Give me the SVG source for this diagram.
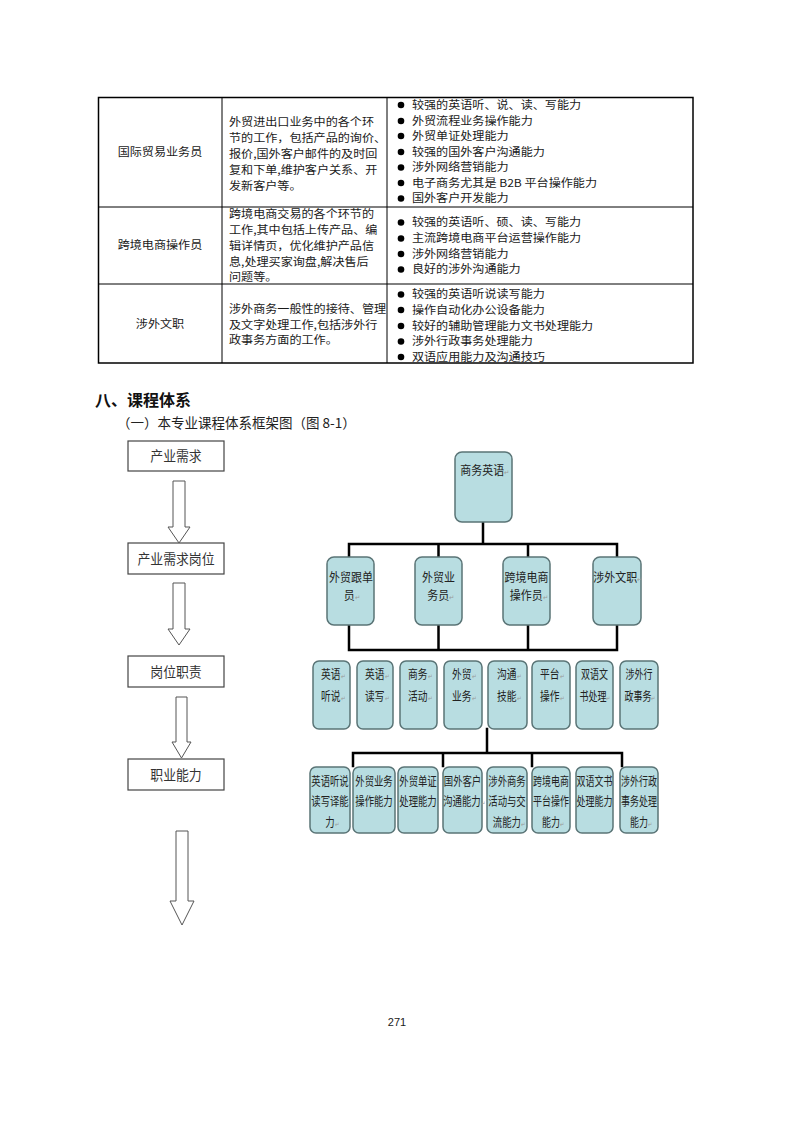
<svg xmlns="http://www.w3.org/2000/svg" width="793" height="1122" viewBox="0 0 793 1122">
<style>
.t{font-family:"Noto Sans CJK SC","Liberation Sans",sans-serif;fill:#1a1a1a}
.tb{font-size:11px}
.c{text-anchor:middle}
.fl{font-size:14px;fill:#333}
.nb{fill:#b8dde1;stroke:#5a7476;stroke-width:1.5}
.fb{fill:#fff;stroke:#444;stroke-width:1.2}
.ar{fill:#fff;stroke:#555;stroke-width:1}
.n2{font-size:12.2px;fill:#222}
.n3{font-size:12.5px;fill:#222}
.pm{font-size:7px;fill:#999}
.ln{stroke:#000;stroke-width:2.5;fill:none;stroke-linecap:square}
.tl{stroke:#000;stroke-width:1;fill:none}
</style>
<rect width="793" height="1122" fill="#fff"/>

<g id="table">
<rect x="98.5" y="97.5" width="594.5" height="265.5" fill="none" stroke="#000" stroke-width="1.5"/>
<path class="tl" d="M222,97V363M387,97V363M98,207H693M98,284H693"/>
<g class="t tb" transform="scale(1.1,1)">
<text class="c" x="145.45" y="156">国际贸易业务员</text>
<text x="208.2" y="126.5">外贸进出口业务中的各个环</text>
<text x="208.2" y="142.5">节的工作，包括产品的询价、</text>
<text x="208.2" y="158">报价,国外客户邮件的及时回</text>
<text x="208.2" y="174">复和下单,维护客户关系、开</text>
<text x="208.2" y="190">发新客户等。</text>
<text x="374.5" y="109">较强的英语听、说、读、写能力</text>
<text x="374.5" y="125">外贸流程业务操作能力</text>
<text x="374.5" y="140">外贸单证处理能力</text>
<text x="374.5" y="156">较强的国外客户沟通能力</text>
<text x="374.5" y="171.5">涉外网络营销能力</text>
<text x="374.5" y="187">电子商务尤其是 B2B 平台操作能力</text>
<text x="374.5" y="202.5">国外客户开发能力</text>

<text class="c" x="145.45" y="249">跨境电商操作员</text>
<text x="208.2" y="218">跨境电商交易的各个环节的</text>
<text x="208.2" y="234">工作,其中包括上传产品、编</text>
<text x="208.2" y="250">辑详情页，优化维护产品信</text>
<text x="208.2" y="266">息,处理买家询盘,解决售后</text>
<text x="208.2" y="281">问题等。</text>
<text x="374.5" y="226.5">较强的英语听、硕、读、写能力</text>
<text x="374.5" y="242.5">主流跨境电商平台运营操作能力</text>
<text x="374.5" y="258">涉外网络营销能力</text>
<text x="374.5" y="273.5">良好的涉外沟通能力</text>

<text class="c" x="145.45" y="328">涉外文职</text>
<text x="208.2" y="313">涉外商务一般性的接待、管理</text>
<text x="208.2" y="329">及文字处理工作,包括涉外行</text>
<text x="208.2" y="344">政事务方面的工作。</text>
<text x="374.5" y="298.5">较强的英语听说读写能力</text>
<text x="374.5" y="314">操作自动化办公设备能力</text>
<text x="374.5" y="330">较好的辅助管理能力文书处理能力</text>
<text x="374.5" y="345.5">涉外行政事务处理能力</text>
<text x="374.5" y="361">双语应用能力及沟通技巧</text>
</g>
<g fill="#000">
<circle cx="401" cy="105" r="3.3"/><circle cx="401" cy="121" r="3.3"/><circle cx="401" cy="136" r="3.3"/><circle cx="401" cy="152" r="3.3"/><circle cx="401" cy="167.5" r="3.3"/><circle cx="401" cy="183" r="3.3"/><circle cx="401" cy="198.5" r="3.3"/>
<circle cx="401" cy="222.5" r="3.3"/><circle cx="401" cy="238.5" r="3.3"/><circle cx="401" cy="254" r="3.3"/><circle cx="401" cy="269.5" r="3.3"/>
<circle cx="401" cy="294.5" r="3.3"/><circle cx="401" cy="310" r="3.3"/><circle cx="401" cy="326" r="3.3"/><circle cx="401" cy="341.5" r="3.3"/><circle cx="401" cy="357" r="3.3"/>
</g>
</g>

<g id="headings" class="t">
<text x="95" y="406" font-size="16" font-weight="bold" fill="#111">八、课程体系</text>
<text x="117" y="428" font-size="13.5" fill="#222">（一）本专业课程体系框架图（图 8-1）</text>
</g>

<g id="flow">
<g id="f1"><rect class="fb" x="128" y="441" width="96" height="30"/><text class="t fl c" transform="translate(176,461.3) scale(0.92,1)">产业需求</text></g>
<g id="f2"><rect class="fb" x="128" y="543" width="96" height="31"/><text class="t fl c" transform="translate(176,563.8) scale(0.92,1)">产业需求岗位</text></g>
<g id="f3"><rect class="fb" x="128" y="656" width="96" height="31"/><text class="t fl c" transform="translate(176,676.8) scale(0.92,1)">岗位职责</text></g>
<g id="f4"><rect class="fb" x="128" y="759" width="96" height="31"/><text class="t fl c" transform="translate(176,779.8) scale(0.92,1)">职业能力</text></g>
<g id="flow-arrows">
<path class="ar" d="M173,481H185V527H190L179,543L168,527H173Z"/>
<path class="ar" d="M173,583H185V629H190L179,645L168,629H173Z"/>
<path class="ar" d="M176,697H187V742H191L181.5,758L172,742H176Z"/>
<path class="ar" d="M176,831H188V901H194L182,925L170,901H176Z"/>
</g>
</g>

<g id="connectors">
<path class="ln" d="M483,522V544M349,544H617M349,544V557M438.5,544V557M528,544V557M617,544V557"/>
<path class="ln" d="M349,625V650M438.5,625V650M528,625V650M617,625V650M349,650H617"/>
<path class="ln" d="M487,729V753M353,753H622M353,753V766M443,753V766M532,753V766M622,753V766"/>
</g>

<g id="root"><rect class="nb" x="455" y="452" width="57" height="70" rx="7"/><text class="t n2 c" transform="translate(485,474.6) scale(0.9,1)">商务英语<tspan class="pm">↵</tspan></text></g>

<g id="l2a"><rect class="nb" x="327" y="557" width="47" height="68" rx="7"/><text class="t n2 c" transform="translate(351,581.6) scale(0.9,1)">外贸跟单</text><text class="t n2 c" transform="translate(352,599.6) scale(0.9,1)">员<tspan class="pm">↵</tspan></text></g>
<g id="l2b"><rect class="nb" x="415" y="557" width="47" height="68" rx="7"/><text class="t n2 c" transform="translate(438.5,581.6) scale(0.9,1)">外贸业</text><text class="t n2 c" transform="translate(441,599.6) scale(0.9,1)">务员<tspan class="pm">↵</tspan></text></g>
<g id="l2c"><rect class="nb" x="503" y="557" width="47" height="68" rx="7"/><text class="t n2 c" transform="translate(526.5,581.6) scale(0.9,1)">跨境电商</text><text class="t n2 c" transform="translate(529,599.6) scale(0.9,1)">操作员<tspan class="pm">↵</tspan></text></g>
<g id="l2d"><rect class="nb" x="593" y="557" width="48" height="68" rx="7"/><text class="t n2 c" transform="translate(618,581.6) scale(0.9,1)">涉外文职<tspan class="pm">↵</tspan></text></g>

<g id="l3a"><rect class="nb" x="313" y="661" width="37" height="68" rx="6"/><text class="t n3 c" transform="translate(333,678.5) scale(0.78,1)">英语<tspan class="pm">↵</tspan></text><text class="t n3 c" transform="translate(333,700.5) scale(0.78,1)">听说<tspan class="pm">↵</tspan></text></g>
<g id="l3b"><rect class="nb" x="357" y="661" width="36" height="68" rx="6"/><text class="t n3 c" transform="translate(377,678.5) scale(0.78,1)">英语<tspan class="pm">↵</tspan></text><text class="t n3 c" transform="translate(377,700.5) scale(0.78,1)">读写<tspan class="pm">↵</tspan></text></g>
<g id="l3c"><rect class="nb" x="400" y="661" width="37" height="68" rx="6"/><text class="t n3 c" transform="translate(420,678.5) scale(0.78,1)">商务<tspan class="pm">↵</tspan></text><text class="t n3 c" transform="translate(420,700.5) scale(0.78,1)">活动<tspan class="pm">↵</tspan></text></g>
<g id="l3d"><rect class="nb" x="444" y="661" width="38" height="68" rx="6"/><text class="t n3 c" transform="translate(464,678.5) scale(0.78,1)">外贸<tspan class="pm">↵</tspan></text><text class="t n3 c" transform="translate(464,700.5) scale(0.78,1)">业务<tspan class="pm">↵</tspan></text></g>
<g id="l3e"><rect class="nb" x="488" y="661" width="39" height="68" rx="6"/><text class="t n3 c" transform="translate(509,678.5) scale(0.78,1)">沟通<tspan class="pm">↵</tspan></text><text class="t n3 c" transform="translate(509,700.5) scale(0.78,1)">技能<tspan class="pm">↵</tspan></text></g>
<g id="l3f"><rect class="nb" x="532" y="661" width="38" height="68" rx="6"/><text class="t n3 c" transform="translate(552,678.5) scale(0.78,1)">平台<tspan class="pm">↵</tspan></text><text class="t n3 c" transform="translate(552,700.5) scale(0.78,1)">操作<tspan class="pm">↵</tspan></text></g>
<g id="l3g"><rect class="nb" x="576" y="661" width="37" height="68" rx="6"/><text class="t n3 c" transform="translate(594.5,678.5) scale(0.72,1)">双语文</text><text class="t n3 c" transform="translate(595,700.5) scale(0.72,1)">书处理<tspan class="pm">↵</tspan></text></g>
<g id="l3h"><rect class="nb" x="620" y="661" width="38" height="68" rx="6"/><text class="t n3 c" transform="translate(639,678.5) scale(0.72,1)">涉外行</text><text class="t n3 c" transform="translate(640,700.5) scale(0.72,1)">政事务<tspan class="pm">↵</tspan></text></g>

<g id="l4a"><rect class="nb" x="310" y="767" width="40" height="66" rx="6"/><text class="t n3 c" transform="translate(330,786) scale(0.75,1)">英语听说</text><text class="t n3 c" transform="translate(330,806) scale(0.75,1)">读写译能</text><text class="t n3 c" transform="translate(332,827) scale(0.75,1)">力<tspan class="pm">↵</tspan></text></g>
<g id="l4b"><rect class="nb" x="353" y="767" width="42" height="66" rx="6"/><text class="t n3 c" transform="translate(374,786) scale(0.75,1)">外贸业务</text><text class="t n3 c" transform="translate(374,806) scale(0.75,1)">操作能力</text></g>
<g id="l4c"><rect class="nb" x="398" y="767" width="40" height="66" rx="6"/><text class="t n3 c" transform="translate(418,786) scale(0.75,1)">外贸单证</text><text class="t n3 c" transform="translate(418,806) scale(0.75,1)">处理能力</text></g>
<g id="l4d"><rect class="nb" x="443" y="767" width="39" height="66" rx="6"/><text class="t n3 c" transform="translate(462.5,786) scale(0.75,1)">国外客户</text><text class="t n3 c" transform="translate(464,806) scale(0.75,1)">沟通能力<tspan class="pm">↵</tspan></text></g>
<g id="l4e"><rect class="nb" x="487" y="767" width="40" height="66" rx="6"/><text class="t n3 c" transform="translate(507,786) scale(0.75,1)">涉外商务</text><text class="t n3 c" transform="translate(507,806) scale(0.75,1)">活动与交</text><text class="t n3 c" transform="translate(509,827) scale(0.75,1)">流能力<tspan class="pm">↵</tspan></text></g>
<g id="l4f"><rect class="nb" x="532" y="767" width="38" height="66" rx="6"/><text class="t n3 c" transform="translate(551,786) scale(0.72,1)">跨境电商</text><text class="t n3 c" transform="translate(551,806) scale(0.72,1)">平台操作</text><text class="t n3 c" transform="translate(553,827) scale(0.72,1)">能力<tspan class="pm">↵</tspan></text></g>
<g id="l4g"><rect class="nb" x="576" y="767" width="37" height="66" rx="6"/><text class="t n3 c" transform="translate(594.5,786) scale(0.72,1)">双语文书</text><text class="t n3 c" transform="translate(594.5,806) scale(0.72,1)">处理能力</text></g>
<g id="l4h"><rect class="nb" x="620" y="767" width="38" height="66" rx="6"/><text class="t n3 c" transform="translate(639,786) scale(0.72,1)">涉外行政</text><text class="t n3 c" transform="translate(639,806) scale(0.72,1)">事务处理</text><text class="t n3 c" transform="translate(641,827) scale(0.72,1)">能力<tspan class="pm">↵</tspan></text></g>

<text class="t c" x="397" y="1026" font-size="11" fill="#222" style="font-family:'Liberation Sans',sans-serif">271</text>
</svg>
